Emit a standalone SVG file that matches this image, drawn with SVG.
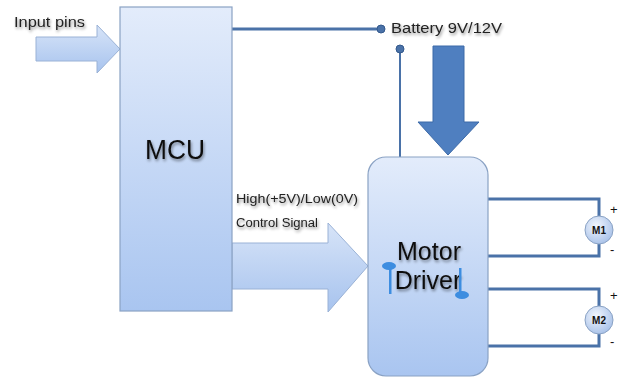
<svg xmlns="http://www.w3.org/2000/svg" width="624" height="380" viewBox="0 0 624 380">
<defs>
<linearGradient id="boxg" x1="0" y1="0" x2="0" y2="1">
<stop offset="0" stop-color="#e3ecfb"/>
<stop offset="1" stop-color="#a9c5f0"/>
</linearGradient>
<linearGradient id="arrg" x1="0" y1="0" x2="0" y2="1">
<stop offset="0" stop-color="#d7e4f8"/>
<stop offset="1" stop-color="#a7c3ee"/>
</linearGradient>
<radialGradient id="motg" cx="0.4" cy="0.35" r="0.7">
<stop offset="0" stop-color="#f2f6fd"/>
<stop offset="1" stop-color="#a6c0e8"/>
</radialGradient>
<filter id="sh" x="-20%" y="-30%" width="140%" height="180%">
<feGaussianBlur in="SourceAlpha" stdDeviation="1.5" result="bl"/>
<feOffset in="bl" dx="1" dy="2" result="of"/>
<feComponentTransfer in="of" result="sd"><feFuncA type="linear" slope="0.45"/></feComponentTransfer>
<feMerge><feMergeNode in="sd"/><feMergeNode in="SourceGraphic"/></feMerge>
</filter>
</defs>
<style>
.box{fill:url(#boxg);stroke:#8aa2c4;stroke-width:1.2}
.fat{fill:url(#arrg);stroke:#9ab2d6;stroke-width:1}
.wire{fill:none;stroke:#4a72a8;stroke-width:3}
.thin{fill:none;stroke:#4a72a8;stroke-width:2}
.dot{fill:#4a72a8;stroke:#34598c;stroke-width:1}
.big{font-family:"Liberation Sans",Arial,sans-serif;font-size:25px;fill:#111;filter:url(#sh)}
.lbl{font-family:"Liberation Sans",Arial,sans-serif;font-size:12px;fill:#222;filter:url(#sh)}
.mot{font-family:"Liberation Sans",Arial,sans-serif;font-size:10px;font-weight:bold;fill:#111}
.sign{font-family:"Liberation Sans",Arial,sans-serif;font-size:13px;fill:#111}
.handle{fill:#3d8de0}
</style>

<g id="connectors">
<path class="fat" d="M36 37 H97 V25 L120 49 L97 73 V61 H36 Z"/>
<path class="wire" d="M232 29 H379"/>
<path class="thin" d="M400 49 V157"/>
<path d="M433 46 H464 V122 H479 L448 155 L418 122 H433 Z" fill="#4f7fc0" stroke="#3d6aa8" stroke-width="1"/>
<path class="fat" d="M232 243 H328 V223 L368 266 L328 312 V289 H232 Z"/>
<path class="wire" d="M488 199 H599 V216"/>
<path class="wire" d="M488 256 H599 V244"/>
<path class="wire" d="M488 289 H599 V306"/>
<path class="wire" d="M488 346 H599 V334"/>
</g>

<g id="input-pins">
<text class="lbl" x="14" y="27" style="font-size:15px" textLength="71" lengthAdjust="spacingAndGlyphs">Input pins</text>
</g>

<g id="mcu">
<rect class="box" x="120" y="7" width="112" height="304"/>
<text class="big" x="145" y="159" style="font-size:27px" textLength="60" lengthAdjust="spacingAndGlyphs">MCU</text>
</g>

<g id="battery">
<circle class="dot" cx="381" cy="29" r="4"/>
<circle class="dot" cx="400" cy="49" r="4"/>
<text class="lbl" x="391" y="33" style="font-size:14px" textLength="111" lengthAdjust="spacingAndGlyphs">Battery 9V/12V</text>
</g>

<g id="control-label">
<text class="lbl" x="236" y="203" textLength="122" lengthAdjust="spacingAndGlyphs">High(+5V)/Low(0V)</text>
<text class="lbl" x="236" y="227" textLength="82" lengthAdjust="spacingAndGlyphs">Control Signal</text>
</g>

<g id="motor-driver">
<rect class="box" x="368" y="157" width="120" height="219" rx="18"/>
<text class="big" x="429" y="260" text-anchor="middle">Motor</text>
<text class="big" x="428" y="289" text-anchor="middle">Driver</text>
<rect class="handle" x="389" y="266" width="2.5" height="28"/>
<ellipse class="handle" cx="389" cy="266" rx="7" ry="4"/>
<rect class="handle" x="459" y="268" width="2.5" height="27"/>
<ellipse class="handle" cx="462" cy="295" rx="7" ry="4"/>
</g>

<g id="m1">
<circle cx="599" cy="230" r="14" fill="url(#motg)" stroke="#8aa2c4" stroke-width="1"/>
<text class="mot" x="599" y="234" text-anchor="middle">M1</text>
<text class="sign" x="610" y="214">+</text>
<text class="sign" x="610" y="254">-</text>
</g>

<g id="m2">
<circle cx="599" cy="320" r="14" fill="url(#motg)" stroke="#8aa2c4" stroke-width="1"/>
<text class="mot" x="599" y="324" text-anchor="middle">M2</text>
<text class="sign" x="610" y="300">+</text>
<text class="sign" x="610" y="346">-</text>
</g>
</svg>
